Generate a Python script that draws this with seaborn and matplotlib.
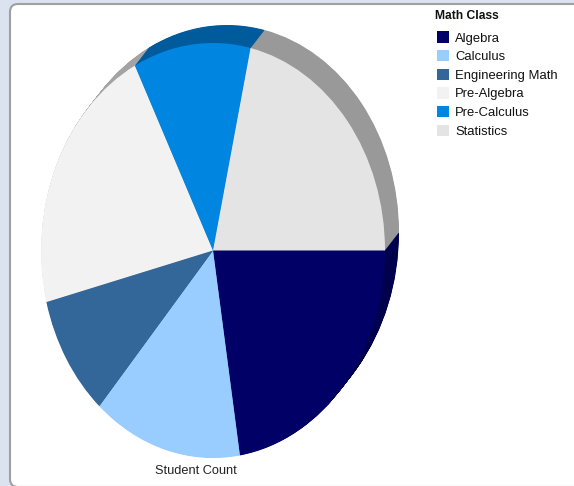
import numpy as np
import matplotlib
matplotlib.use("Agg")
import matplotlib.pyplot as plt
from matplotlib.patches import FancyBboxPatch
import seaborn as sns

# Student counts per math class
classes = ["Algebra", "Calculus", "Engineering Math", "Pre-Algebra", "Pre-Calculus", "Statistics"]
student_counts = [45, 28, 19, 43, 22, 43]

face_colors = ["#000066", "#99ccff", "#336699", "#f2f2f2", "#0085e0", "#e4e4e4"]
side_colors = ["#00004c", "#6f93b8", "#254a70", "#a3a3a3", "#005b9c", "#999999"]

sns.set_theme(style="white")
plt.rcParams["font.family"] = ["Liberation Sans", "DejaVu Sans"]

W, H = 574, 486
fig = plt.figure(figsize=(W / 100, H / 100), dpi=100, facecolor="#dbe2f0")

# rounded white panel behind the chart
bg = fig.add_axes([0, 0, 1, 1])
bg.set_xlim(0, W)
bg.set_ylim(H, 0)
bg.axis("off")
bg.add_patch(FancyBboxPatch((10, 4), 620, 483, boxstyle="round,pad=0,rounding_size=8",
                            fc="white", ec="#a0a0a0", lw=1.5))

# pie axes: unequal x/y scaling turns the pie into an upright ellipse
cx, cy = 213, 250.5          # centre (pixels from top-left)
rx, ry = 172, 207.5          # radii in pixels
span = 1.2
ax = fig.add_axes([(cx - span * rx) / W, (H - cy - span * ry) / H,
                   2 * span * rx / W, 2 * span * ry / H])

# extruded rim: stacked copies of the pie pushed up and to the right
depth_x, depth_y = 14 / rx, 18 / ry
for t in np.linspace(1.0, 0.0, 36)[:-1]:
    ax.pie(student_counts, colors=side_colors, startangle=0, counterclock=False,
           center=(depth_x * t, depth_y * t), radius=1,
           wedgeprops=dict(linewidth=0, antialiased=True))

wedges, _ = ax.pie(student_counts, colors=face_colors, startangle=0, counterclock=False,
                   center=(0, 0), radius=1, wedgeprops=dict(linewidth=0))

ax.set_aspect("auto")
ax.set_xlim(-span, span)
ax.set_ylim(-span, span)
ax.axis("off")

fig.text(196 / W, 1 - 471 / H, "Student Count", ha="center", va="center",
         fontsize=9.2, color="#222222")

# legend title and entries
fig.text(435 / W, 1 - 16 / H, "Math Class", ha="left", va="center",
         fontsize=8.7, fontweight="bold", color="#111111")
fig.legend(wedges, classes, loc="upper left",
           bbox_to_anchor=(437 / W, 1 - 31.5 / H), frameon=False, fontsize=9.4,
           handlelength=0.95, handleheight=0.95, handletextpad=0.45, labelspacing=0.42,
           borderpad=0, borderaxespad=0, labelcolor="#111111")

fig.savefig("out.png", dpi=100, facecolor=fig.get_facecolor())
